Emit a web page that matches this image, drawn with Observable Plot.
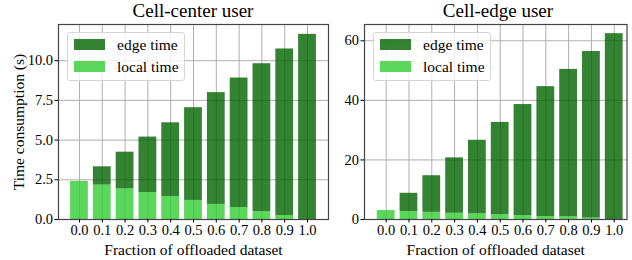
<!DOCTYPE html>
<html>
<head>
<meta charset="utf-8">
<script src="https://cdn.jsdelivr.net/npm/d3@7"></script>
<script src="https://cdn.jsdelivr.net/npm/@observablehq/plot@0.6"></script>
<style>
  html, body { margin: 0; padding: 0; background: #fff; }
  #wrap { position: relative; width: 632px; height: 260px; font-family: "Liberation Serif", "Times New Roman", serif; }
  .panel { position: absolute; top: 0; }
  .title { position: absolute; top: 1px; font-size: 19px; line-height: 1.1; color: #000; text-align: center; white-space: nowrap; transform: translateX(-50%); }
  .legend { position: absolute; box-sizing: border-box; border: 1px solid #d6d6d6; border-radius: 3px; background: rgba(255,255,255,0.8); }
  .patch { position: absolute; width: 31px; height: 11.5px; }
  .ltext { position: absolute; font-size: 15.5px; color: #000; white-space: nowrap; line-height: 1; }
</style>
</head>
<body>
<div id="wrap"></div>
<script>
// ---- data ----
const fractions = [0.0, 0.1, 0.2, 0.3, 0.4, 0.5, 0.6, 0.7, 0.8, 0.9, 1.0];
const centerTotal = [2.40, 3.32, 4.24, 5.19, 6.09, 7.04, 7.99, 8.91, 9.81, 10.74, 11.66];
const centerLocal = [2.40, 2.17, 1.93, 1.70, 1.45, 1.20, 0.95, 0.75, 0.50, 0.25, 0.00];
const edgeTotal = [3.0, 8.8, 14.7, 20.7, 26.6, 32.6, 38.6, 44.6, 50.4, 56.4, 62.4];
const edgeLocal = [3.0, 2.7, 2.4, 2.1, 1.9, 1.6, 1.3, 1.0, 0.9, 0.5, 0.0];
const centerYTicks = [0, 2.5, 5, 7.5, 10];
const edgeYTicks = [0, 20, 40, 60];
const titles = ["Cell-center user", "Cell-edge user"];
const seriesNames = ["edge time", "local time"];
const colors = {edge: "darkgreen", local: "limegreen"};
const xLabel = "Fraction of offloaded dataset";
const yLabel = "Time consumption (s)";

const halfWidth = 0.039;

function makePanel(opts) {
  const rows = fractions.map((f, i) => ({f, total: opts.total[i], local: opts.local[i]}));
  return Plot.plot({
    width: opts.width,
    height: 260,
    marginLeft: opts.marginLeft,
    marginRight: opts.marginRight,
    marginTop: 24,
    marginBottom: 41,
    style: {fontFamily: "'Liberation Serif', 'Times New Roman', serif", fontSize: "14.5px", color: "#000", background: "#fff"},
    x: {domain: opts.xDomain},
    y: {domain: opts.yDomain},
    marks: [
      Plot.gridX(fractions, {stroke: "#b0b0b0", strokeOpacity: 1, strokeWidth: 1}),
      Plot.gridY(opts.yTicks, {stroke: "#b0b0b0", strokeOpacity: 1, strokeWidth: 1}),
      Plot.rectY(rows, {x1: d => d.f - halfWidth, x2: d => d.f + halfWidth, y1: () => 0, y2: "local",
        fill: colors.local, fillOpacity: 0.8}),
      Plot.rectY(rows, {x1: d => d.f - halfWidth, x2: d => d.f + halfWidth, y1: "local", y2: "total",
        fill: colors.edge, fillOpacity: 0.8}),
      Plot.frame({stroke: "#444", strokeWidth: 1.2}),
      Plot.axisX({ticks: fractions, tickFormat: d3.format(".1f"), tickSize: 3.5, tickPadding: 2,
        label: xLabel, labelAnchor: "center", labelOffset: 35, labelArrow: "none"}),
      Plot.axisY({ticks: opts.yTicks, tickFormat: opts.yFormat, tickSize: 3.5, tickPadding: 2,
        label: opts.showYLabel ? yLabel : null, labelAnchor: "center", labelOffset: 46, labelArrow: "none"})
    ]
  });
}

const wrap = document.getElementById("wrap");

const panels = [
  {left: 0, width: 330, marginLeft: 58, marginRight: 2, xDomain: [-0.092, 1.092], yDomain: [0, 12.28],
   total: centerTotal, local: centerLocal, yTicks: centerYTicks, yFormat: d3.format(".1f"), showYLabel: true,
   titleX: 193, legendX: 67},
  {left: 330, width: 302, marginLeft: 34, marginRight: 5.5, xDomain: [-0.095, 1.056], yDomain: [0, 65.47],
   total: edgeTotal, local: edgeLocal, yTicks: edgeYTicks, yFormat: d3.format("d"), showYLabel: false,
   titleX: 498, legendX: 373}
];

panels.forEach((p, k) => {
  const div = document.createElement("div");
  div.className = "panel";
  div.style.left = p.left + "px";
  const svg = makePanel(p);
  // axis titles are slightly larger than tick labels
  svg.querySelectorAll("g[aria-label='x-axis label'] text, g[aria-label='y-axis label'] text")
     .forEach(t => t.setAttribute("font-size", "15.5"));
  div.appendChild(svg);
  wrap.appendChild(div);

  const t = document.createElement("div");
  t.className = "title";
  t.style.left = p.titleX + "px";
  t.textContent = titles[k];
  wrap.appendChild(t);

  const lg = document.createElement("div");
  lg.className = "legend";
  lg.style.left = p.legendX + "px";
  lg.style.top = "32px";
  lg.style.width = "118px";
  lg.style.height = "49px";
  [["edge", 5.5], ["local", 27.5]].forEach(([key, top], j) => {
    const pa = document.createElement("div");
    pa.className = "patch";
    pa.style.left = "5.5px";
    pa.style.top = top + "px";
    pa.style.background = colors[key];
    pa.style.opacity = 0.8;
    lg.appendChild(pa);
    const tx = document.createElement("div");
    tx.className = "ltext";
    tx.style.left = "49px";
    tx.style.top = (top - 2) + "px";
    tx.textContent = seriesNames[j];
    lg.appendChild(tx);
  });
  wrap.appendChild(lg);
});
</script>
</body>
</html>
